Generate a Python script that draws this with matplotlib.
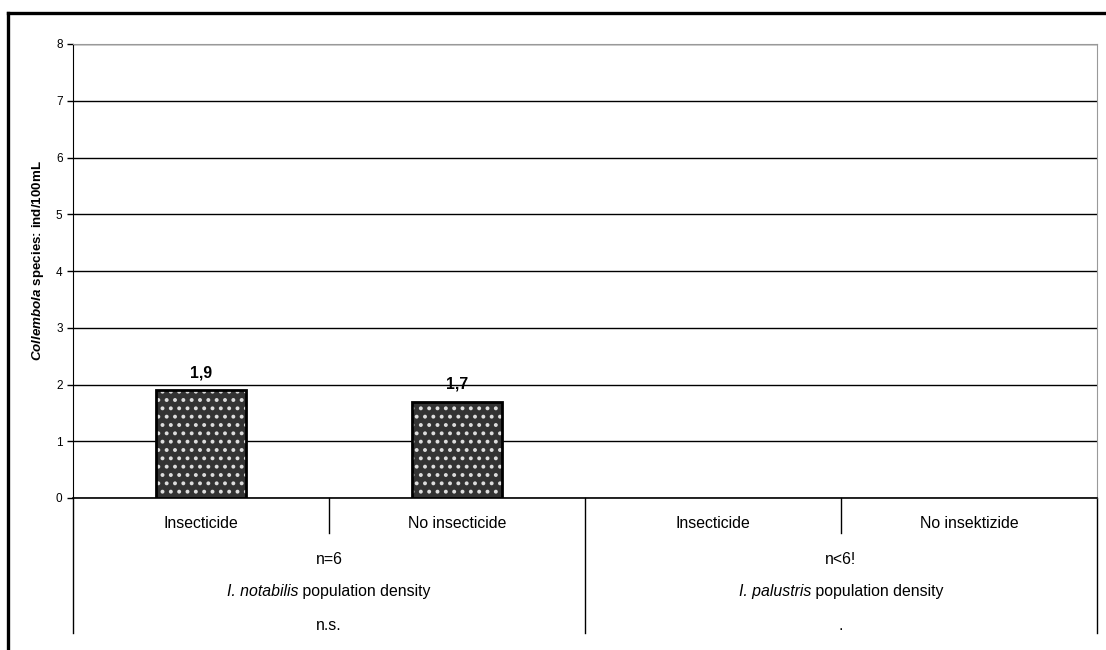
import matplotlib
matplotlib.use('Agg')
import matplotlib.pyplot as plt
from matplotlib.lines import Line2D
from matplotlib.transforms import blended_transform_factory, offset_copy
import numpy as np

plt.rcParams['font.family'] = ['Liberation Sans', 'DejaVu Sans']
plt.rcParams['mathtext.fontset'] = 'custom'
plt.rcParams['mathtext.rm'] = 'Liberation Sans'
plt.rcParams['mathtext.it'] = 'Liberation Sans:italic'
plt.rcParams['mathtext.bf'] = 'Liberation Sans:bold'
has_bfit = 'mathtext.bfit' in plt.rcParams
if has_bfit:
    plt.rcParams['mathtext.bfit'] = 'Liberation Sans:bold:italic'
plt.rcParams['hatch.linewidth'] = 1.6

# data
categories = ['Insecticide', 'No insecticide', 'Insecticide', 'No insektizide']
values = [1.9, 1.7, np.nan, np.nan]
groups = ['n=6', 'n<6!']
species = ['I. notabilis', 'I. palustris']
significance = ['n.s.', '.']
ylabel_italic = 'Collembola'
ylabel_rest = ' species: ind/100mL'

fs = 11.4

fig = plt.figure(figsize=(11.06, 6.5), dpi=100)
ax = fig.add_axes([73 / 1106, 1 - 498 / 650, 1024 / 1106, 454 / 650])

x = np.arange(len(categories))
# dark fill with light dots, then black outline on top
ax.bar(x, values, width=0.35, color='#333333', edgecolor='#dddddd', hatch='..', linewidth=0, zorder=3)
ax.bar(x, values, width=0.35, fill=False, edgecolor='black', linewidth=2, zorder=4)

for xi, v in zip(x, values):
    if not np.isnan(v):
        ax.annotate(f'{v:.1f}'.replace('.', ','), (xi, v), xytext=(0, 7), textcoords='offset points',
                    ha='center', va='bottom', fontsize=fs, fontweight='bold')

ax.set_xlim(-0.5, len(categories) - 0.5)
ax.set_ylim(0, 8)
ax.set_yticks(range(0, 9))
ax.tick_params(axis='y', labelsize=8.5, length=4, width=1)
ax.set_xticks([])
ax.grid(axis='y', color='black', linewidth=1, zorder=0)
for s in ['top', 'right']:
    ax.spines[s].set_color('#999999')
ax.spines['left'].set_color('black')
ax.spines['bottom'].set_color('black')
ax.spines['bottom'].set_linewidth(1.2)

# y label: bold italic genus + bold rest
if has_bfit:
    ylab = r'$\mathbfit{' + ylabel_italic + '}$' + ylabel_rest
else:
    ylab = r'$\mathit{' + ylabel_italic + '}$' + ylabel_rest
ax.text(-0.034, 0.522, ylab, transform=ax.transAxes, rotation=90,
        ha='center', va='center', fontsize=9.6, fontweight='bold')

# category table below the axis
trans = blended_transform_factory(ax.transData, ax.transAxes)
for xi, lab in zip(x, categories):
    ax.text(xi, -0.056, lab, transform=trans, ha='center', va='center', fontsize=fs)

for i in range(len(categories) + 1):
    xb = i - 0.5
    ybot = -0.297 if i % 2 == 0 else -0.077
    ax.add_line(Line2D([xb, xb], [0, ybot], transform=trans, color='black', linewidth=1, clip_on=False))

renderer = fig.canvas.get_renderer()
for g in range(len(groups)):
    xc = 2 * g + 0.5
    ax.text(xc, -0.136, groups[g], transform=trans, ha='center', va='center', fontsize=fs)
    # italic species name + plain text, centred together
    t1 = ax.text(xc, -0.205, species[g], transform=trans, ha='left', va='center',
                 fontsize=fs, fontstyle='italic')
    t2 = ax.text(xc, -0.205, ' population density', transform=trans, ha='left', va='center',
                 fontsize=fs)
    w1 = t1.get_window_extent(renderer).width
    w2 = t2.get_window_extent(renderer).width
    shift = -(w1 + w2) / 2 * 72 / fig.dpi
    t1.set_transform(offset_copy(trans, fig=fig, x=shift, y=0, units='points'))
    t2.set_transform(offset_copy(trans, fig=fig, x=shift + w1 * 72 / fig.dpi, y=0, units='points'))
    ax.text(xc, -0.280, significance[g], transform=trans, ha='center', va='center', fontsize=fs)

# thick frame (top and left edges visible)
fig.add_artist(Line2D([8 / 1106, 1.0], [1 - 13 / 650, 1 - 13 / 650], transform=fig.transFigure,
                      color='black', linewidth=2.4))
fig.add_artist(Line2D([8 / 1106, 8 / 1106], [0, 1 - 13 / 650], transform=fig.transFigure,
                      color='black', linewidth=2.4))

fig.savefig('out.png', dpi=100)
